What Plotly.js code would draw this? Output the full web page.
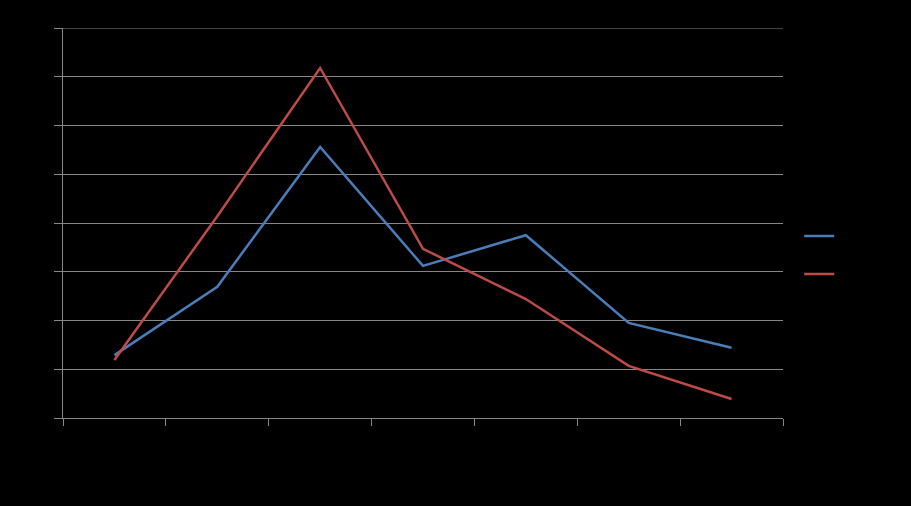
<!DOCTYPE html>
<html><head><meta charset="utf-8">
<script src="https://cdn.plot.ly/plotly-3.0.1.min.js"></script>
<style>html,body{margin:0;padding:0;background:#000;}#c{width:911px;height:506px;}</style>
</head><body><div id="c"></div>
<script>
const categories = ["1","2","3","4","5","6","7"];
const seriesA = [1.29, 2.69, 5.56, 3.12, 3.75, 1.95, 1.44];
const seriesB = [1.19, 4.14, 7.18, 3.47, 2.44, 1.07, 0.39];
const yMax = 8;
const tr = (y, color, g) => ({
  x: categories, y: y, type: 'scatter', mode: 'lines', name: '',
  legendgroup: g, line: {color: color, width: 2.5}
});
Plotly.newPlot('c', [tr(seriesA, '#4A7EBB', 'a'), tr(seriesB, '#BE4B48', 'b')], {
  width: 911, height: 506,
  paper_bgcolor: '#000', plot_bgcolor: '#000',
  margin: {l: 63, r: 128, t: 28, b: 88},
  font: {family: 'Liberation Sans', color: '#000', size: 12},
  xaxis: {type: 'category', range: [-0.5, 6.5], showgrid: false, showline: true,
    linecolor: '#868686', linewidth: 1, ticks: 'outside', ticklen: 7, tickcolor: '#868686',
    tickson: 'boundaries', showticklabels: false, zeroline: false},
  yaxis: {range: [0, yMax], dtick: 1, showgrid: true, gridcolor: '#868686', gridwidth: 1,
    showline: true, linecolor: '#868686', ticks: 'outside', ticklen: 8, tickcolor: '#868686',
    showticklabels: false, zeroline: false},
  shapes: [{type: 'line', xref: 'paper', yref: 'y', x0: 0, x1: 1, y0: yMax, y1: yMax,
    line: {color: '#868686', width: 1}}],
  legend: {x: 1.0225, y: 0.418, yanchor: 'middle', xanchor: 'left', traceorder: 'grouped',
    tracegroupgap: 19, bgcolor: 'rgba(0,0,0,0)', font: {color: '#000'}},
  showlegend: true
}, {displayModeBar: false, staticPlot: true});
</script></body></html>
